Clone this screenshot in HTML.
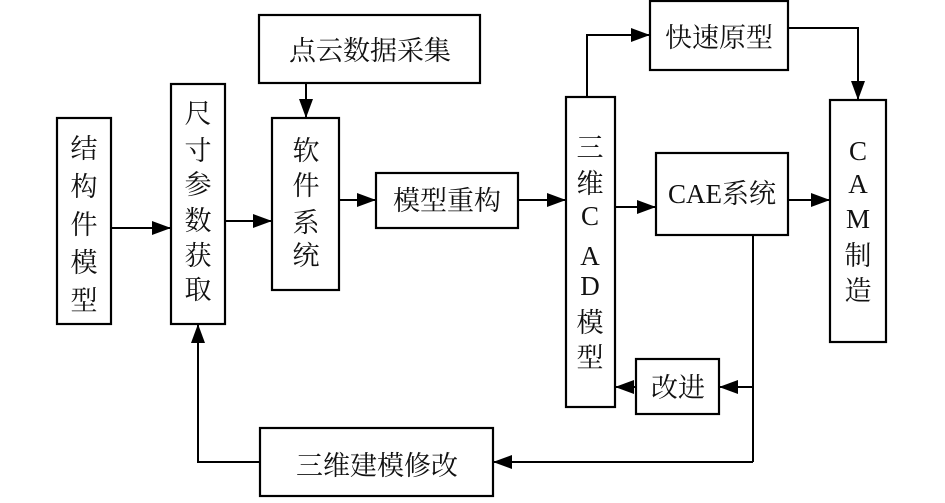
<!DOCTYPE html>
<html><head><meta charset="utf-8"><style>
html,body{margin:0;padding:0;background:#fff;}
svg text{font-family:"Liberation Serif","Noto Serif CJK SC","Noto Sans CJK SC",serif;fill:#111;}
</style></head><body>
<svg width="945" height="498" viewBox="0 0 945 498" xmlns="http://www.w3.org/2000/svg">
<defs><marker id="a" markerWidth="20" markerHeight="14" refX="19" refY="7" orient="auto" markerUnits="userSpaceOnUse"><path d="M0,0 L19,7 L0,14 Z" fill="#000"/></marker></defs>
<g fill="none" stroke="#000" stroke-width="2.2">
<rect x="57" y="118" width="54" height="206"/>
<rect x="171" y="84" width="54" height="240"/>
<rect x="259" y="15" width="221" height="68"/>
<rect x="272" y="118" width="67" height="172"/>
<rect x="376" y="173" width="142" height="55"/>
<rect x="566" y="97" width="49" height="310"/>
<rect x="650" y="1" width="138" height="69"/>
<rect x="656" y="153" width="132" height="82"/>
<rect x="830" y="100" width="56" height="242"/>
<rect x="636" y="359" width="83" height="55"/>
<rect x="260" y="428" width="233" height="68"/>
</g>
<g fill="none" stroke="#000" stroke-width="2" marker-end="url(#a)">
<path d="M111,228 H171"/>
<path d="M225,221 H272"/>
<path d="M306,83 V118"/>
<path d="M339,200 H376"/>
<path d="M518,200 H566"/>
<path d="M587,97 V35 H650"/>
<path d="M788,28 H858 V100"/>
<path d="M615,207 H656"/>
<path d="M788,200 H830"/>
<path d="M753,387 H719"/>
<path d="M636,387 H615"/>
<path d="M753,462 H493"/>
<path d="M260,462 H198 V324"/>
</g>
<path d="M753,235 V462" stroke="#000" stroke-width="2" fill="none"/>
<g font-size="27" text-anchor="middle">
<text x="84" y="158">结</text><text x="84" y="196">构</text><text x="84" y="234">件</text><text x="84" y="272">模</text><text x="84" y="310">型</text>
<text x="198" y="123">尺</text><text x="198" y="160">寸</text><text x="198" y="194">参</text><text x="198" y="230">数</text><text x="198" y="265">获</text><text x="198" y="299">取</text>
<text x="370" y="60">点云数据采集</text>
<text x="306" y="160">软</text><text x="306" y="195">件</text><text x="306" y="232">系</text><text x="306" y="265">统</text>
<text x="447" y="210">模型重构</text>
<text x="590" y="157">三</text><text x="590" y="193">维</text><text x="590" y="225">C</text><text x="590" y="265">A</text><text x="590" y="295">D</text><text x="590" y="332">模</text><text x="590" y="367">型</text>
<text x="719" y="47">快速原型</text>
<text x="722" y="203">CAE系统</text>
<text x="858" y="160">C</text><text x="858" y="193">A</text><text x="858" y="228">M</text><text x="858" y="265">制</text><text x="858" y="300">造</text>
<text x="678" y="397">改进</text>
<text x="377" y="475">三维建模修改</text>
</g>
</svg>
</body></html>
